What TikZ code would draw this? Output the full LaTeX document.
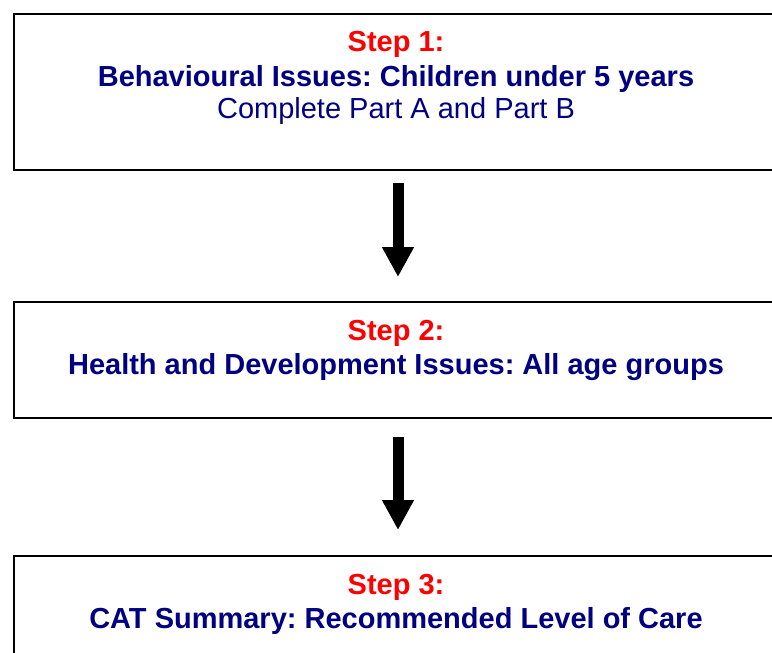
\documentclass[tikz,border=0pt]{standalone}
\usepackage{fontspec}
\setmainfont{Liberation Sans}
\usetikzlibrary{arrows.meta}
\definecolor{stepred}{RGB}{255,0,0}
\definecolor{navytxt}{RGB}{0,0,128}
\tikzset{
  stepbox/.style={draw=black, line width=2pt, fill=white, minimum width=768pt, inner sep=0pt, anchor=north west},
  steplabel/.style={anchor=base, text=stepred, font=\fontsize{29}{33}\selectfont\bfseries\frenchspacing, inner sep=0pt},
  titlelabel/.style={anchor=base, text=navytxt, font=\fontsize{29}{33}\selectfont\bfseries\frenchspacing, inner sep=0pt},
  plainlabel/.style={anchor=base, text=navytxt, font=\fontsize{29}{33}\selectfont\frenchspacing, inner sep=0pt},
  bigarrow/.style={line width=11pt, -{Triangle[width=30pt,length=30pt]}}
}
\begin{document}
\begin{tikzpicture}[x=1pt,y=1pt]
\useasboundingbox (0,0) rectangle (772,-653);
\clip (0,0) rectangle (772,-653);
\fill[white] (0,0) rectangle (772,-653);
\node[stepbox, minimum height=156pt] (b1) at (13,-13) {};
\node[stepbox, minimum height=116pt] (b2) at (13,-301) {};
\node[stepbox, minimum height=160pt] (b3) at (13,-555) {};
\node[steplabel] (s1) at (396,-52) {Step 1:};
\node[titlelabel] (t1) at (396,-86) {Behavioural Issues: Children under 5 years};
\node[plainlabel] (p1) at (396,-118) {Complete Part A and Part B};
\node[steplabel] (s2) at (396,-340) {Step 2:};
\node[titlelabel] (t2) at (396,-374) {Health and Development Issues: All age groups};
\node[steplabel] (s3) at (396,-594) {Step 3:};
\node[titlelabel] (t3) at (396,-628) {CAT Summary: Recommended Level of Care};
\draw[bigarrow, shorten <=12pt, shorten >=24pt] (b1.south) -- (b2.north);
\draw[bigarrow, shorten <=18pt, shorten >=25pt] (b2.south) -- (b3.north);
\end{tikzpicture}
\end{document}
